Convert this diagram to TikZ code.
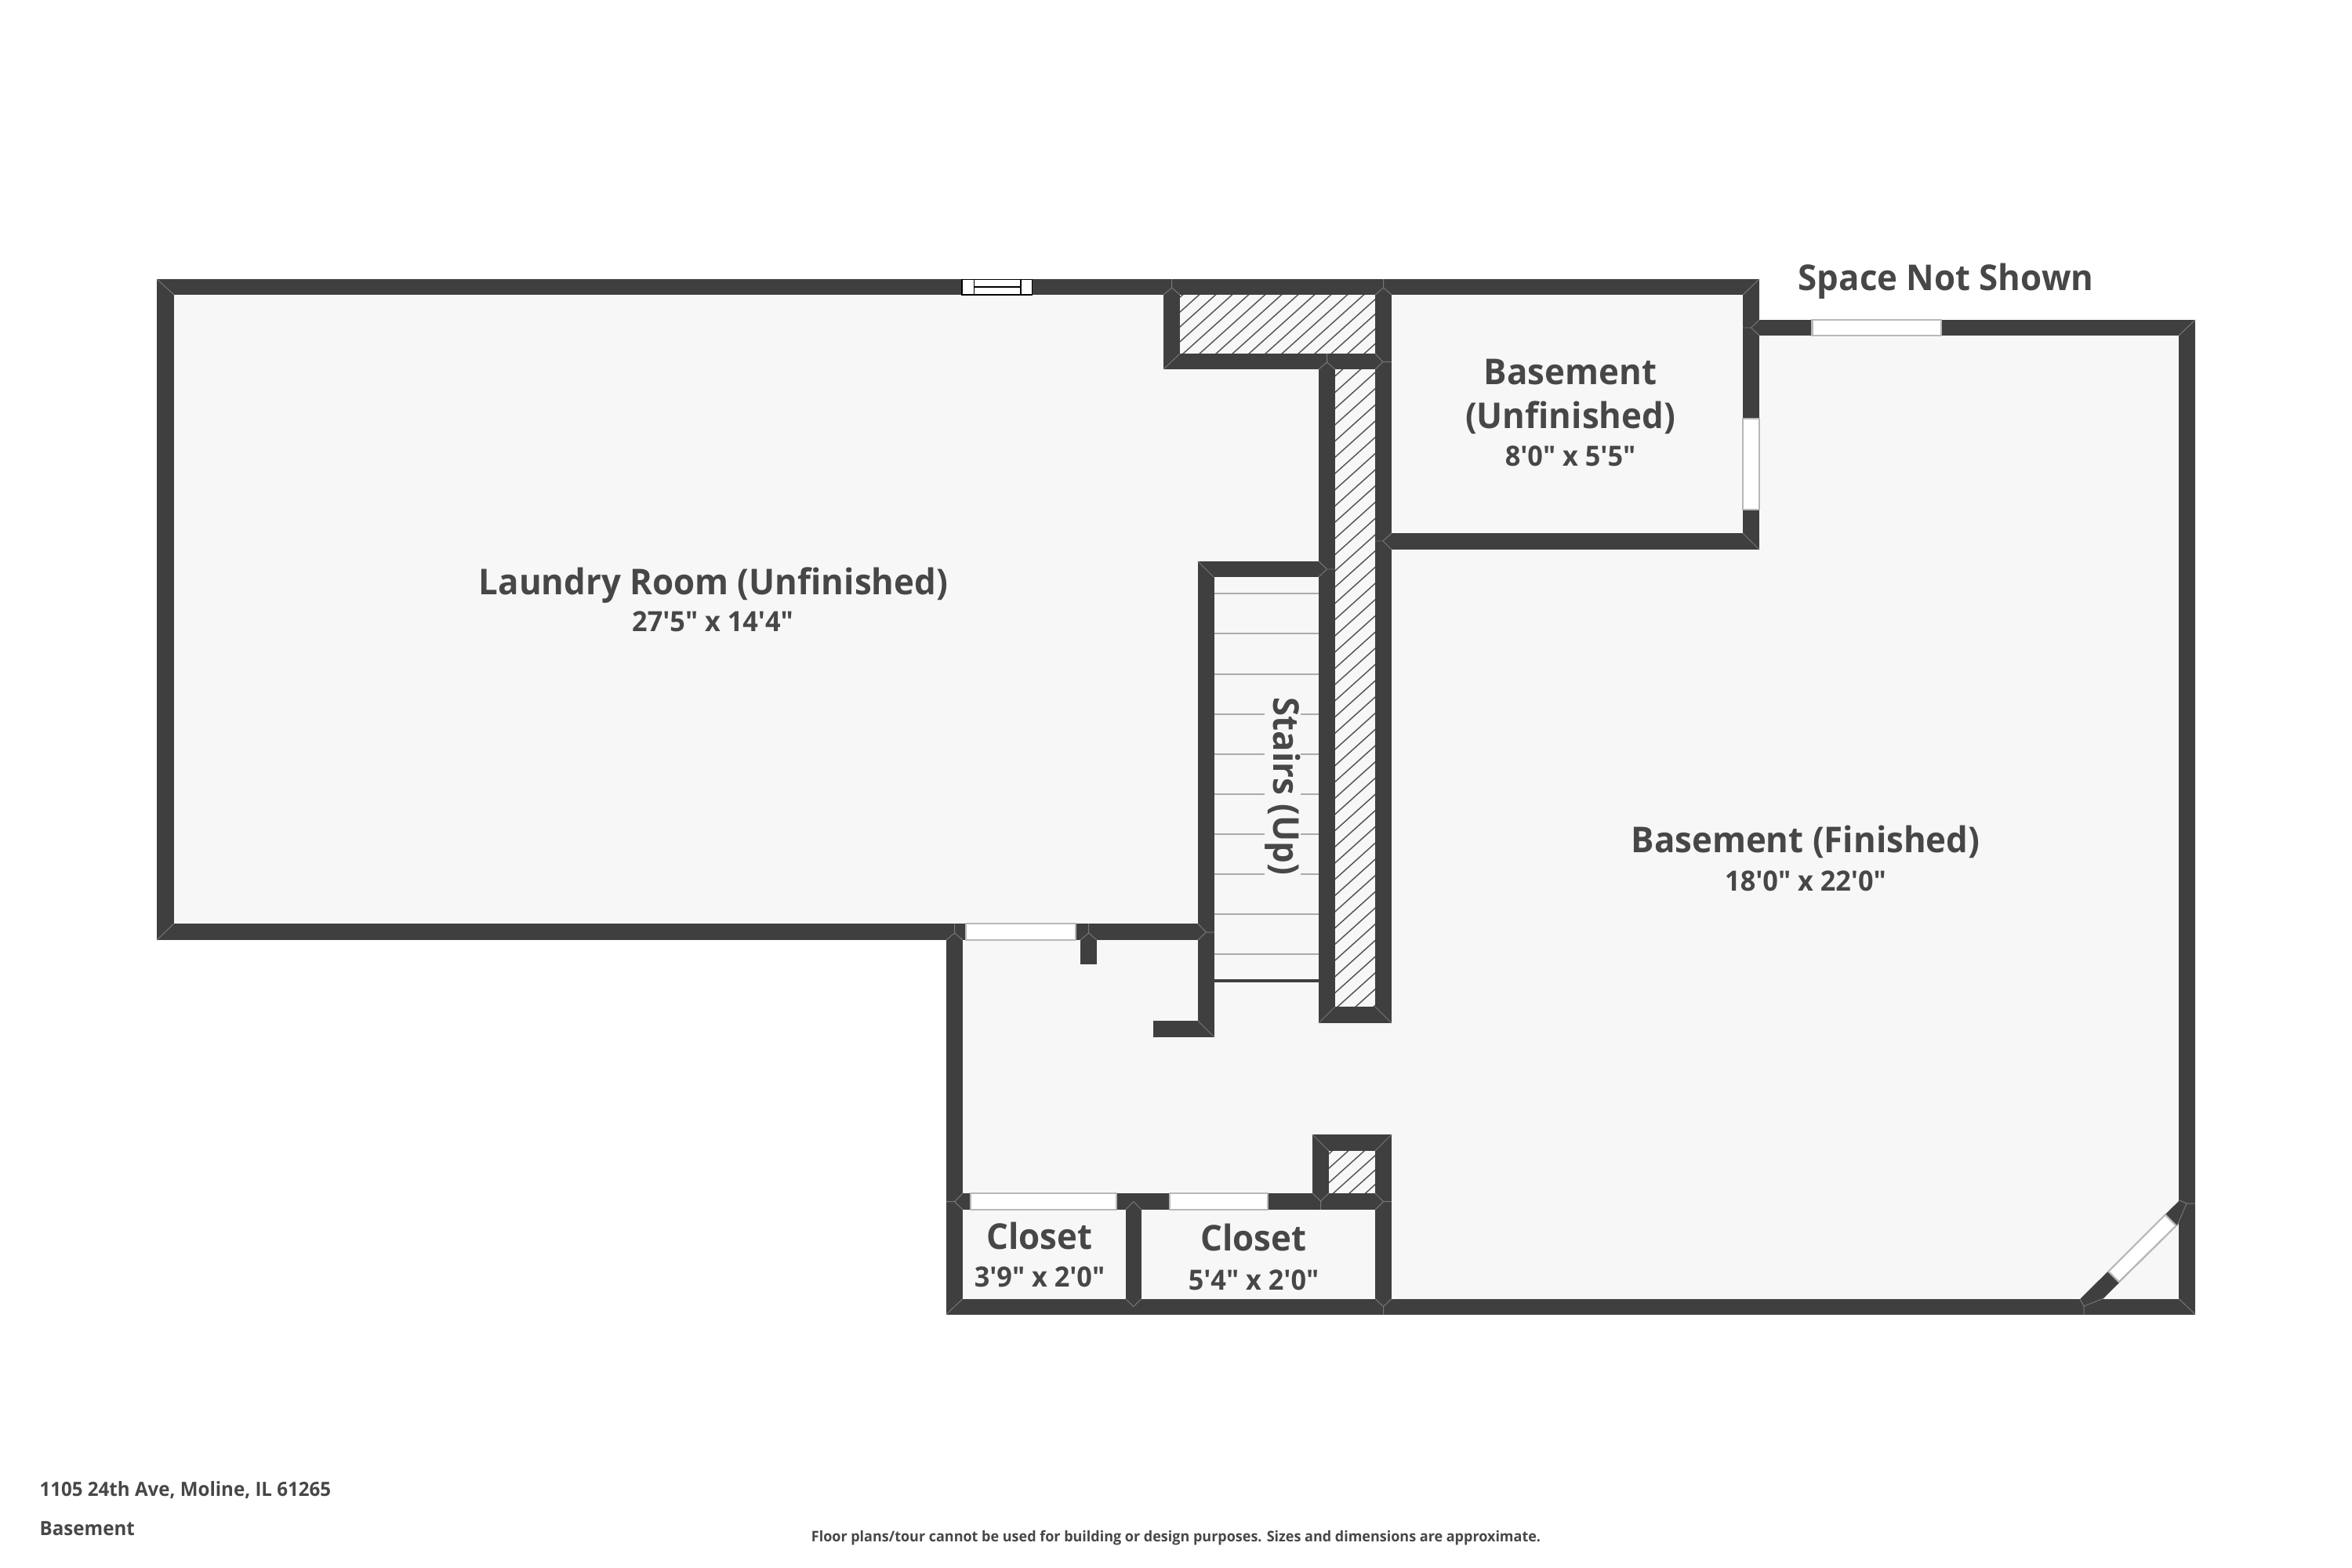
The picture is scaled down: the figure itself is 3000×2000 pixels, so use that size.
\documentclass[tikz,border=0pt]{standalone}
\usepackage{fontspec}
\newfontfamily\labf{Open Sans}[FakeStretch=0.965]
\definecolor{wallc}{HTML}{3F3F3F}
\definecolor{floorc}{HTML}{F7F7F7}
\definecolor{textc}{HTML}{474747}
\definecolor{seamc}{HTML}{777777}
\definecolor{stepc}{HTML}{ABABAB}
\definecolor{doorc}{HTML}{B8B8B8}
\definecolor{hatchc}{HTML}{555555}
\tikzset{
  wall/.style={fill=wallc,draw=none},
  seam/.style={draw=seamc,line width=0.28pt},
  stepline/.style={draw=stepc,line width=0.6pt},
  hatchline/.style={draw=hatchc,line width=0.42pt},
  opening/.style={fill=white,draw=doorc,line width=0.6pt},
  winline/.style={draw=black,line width=0.4pt},
  roomlabel/.style={anchor=base,inner sep=0pt,text=textc,font=\labf\bfseries\fontsize{12.9}{15}\selectfont},
  dimlabel/.style={anchor=base,inner sep=0pt,text=textc,font=\labf\bfseries\fontsize{10.1}{12}\selectfont},
  footlabel/.style={anchor=base west,inner sep=0pt,text=textc,font=\labf\bfseries\fontsize{7.1}{9}\selectfont},
  notelabel/.style={anchor=base,inner sep=0pt,text=textc,font=\labf\bfseries\fontsize{5.3}{7}\selectfont},
}
\newcommand{\hatchbox}[7]{%
  \begin{scope}
    \clip (#1,#2) rectangle (#3,#4);
    \foreach \i in {-60,...,60}{
      \draw[hatchline] ({#5+\i*#7+1000},{#6-900}) -- ({#5+\i*#7-1000},{#6+900});
    }
  \end{scope}}
\begin{document}
\begin{tikzpicture}[x=0.01cm,y=-0.01cm]
\useasboundingbox (0,0) rectangle (3000,2000);
\fill[white] (0,0) rectangle (3000,2000);
% floor
\fill[floorc] (200,356) -- (2244,356) -- (2244,408) -- (2800,408) -- (2800,1676.5) -- (1207,1676.5) -- (1207,1199) -- (200,1199) -- cycle;
% hatching
\hatchbox{1505}{376}{1754}{451}{1529.5}{376}{21}
\hatchbox{1703}{471}{1754}{1284}{1703}{728}{23}
\hatchbox{1695}{1468}{1754}{1522}{1719.6}{1468}{20.5}
% stair treads
\foreach \y in {757,808,860,911,962,1013,1064,1115,1166,1217}{
  \draw[stepline] (1549,\y) -- (1682,\y);
}
\fill[wallc] (1549,1249) rectangle (1682,1253);
% walls
\fill[wall] (200,356) rectangle (2244,376);
\fill[wall] (200,356) rectangle (222,1199);
\fill[wall] (200,1178) rectangle (1549,1199);
\fill[wall] (1207,1178) rectangle (1228,1676.5);
\fill[wall] (1528,716) rectangle (1549,1323);
\fill[wall] (1471,1302) rectangle (1549,1323);
\fill[wall] (1528,716) rectangle (1703,736);
\fill[wall] (1378,1178) rectangle (1399,1230);
\fill[wall] (1484,356) rectangle (1505,471);
\fill[wall] (1484,451) rectangle (1775,471);
\fill[wall] (1754,356) rectangle (1775,1305);
\fill[wall] (1682,451) rectangle (1703,1305);
\fill[wall] (1682,1284) rectangle (1775,1305);
\fill[wall] (2223,356) rectangle (2244,701);
\fill[wall] (1775,680) rectangle (2244,701);
\fill[wall] (2244,408) rectangle (2800,428);
\fill[wall] (2779,408) rectangle (2800,1676.5);
\fill[wall] (1207,1656.5) rectangle (2800,1676.5);
\fill[wall] (1207,1522) rectangle (1775,1543);
\fill[wall] (1435.5,1543) rectangle (1456,1657);
\fill[wall] (1754,1447) rectangle (1775,1676.5);
\fill[wall] (1674,1447) rectangle (1695,1543);
\fill[wall] (1674,1447) rectangle (1775,1468);
\fill[wall] (2780,1531) -- (2653,1657) -- (2658,1666) -- (2683,1656) -- (2777,1563) -- (2789,1535) -- cycle;
% seams
\draw[seam] (200,356) -- (222,376);
\draw[seam] (200,1199) -- (222,1178);
\draw[seam] (1494.6,356) -- (1494.6,367) (1484,376) -- (1494.6,367) -- (1505,376);
\draw[seam] (1764.6,356) -- (1764.6,367) (1754,376) -- (1764.6,367) -- (1775,376);
\draw[seam] (1484,471) -- (1505,451);
\draw[seam] (1692.5,451) -- (1692.5,462) (1682,471) -- (1692.5,462) -- (1703,471);
\draw[seam] (1775,461.7) -- (1764,461.7) (1754,451) -- (1764,461.7) -- (1754,471);
\draw[seam] (1682,716) -- (1692.5,726) -- (1703,726) (1692.5,726) -- (1682,736);
\draw[seam] (1528,716) -- (1548,736);
\draw[seam] (1754,690) -- (1764,690) (1775,680) -- (1764,690) -- (1775,701);
\draw[seam] (1217.5,1178) -- (1217.5,1190) (1207,1199) -- (1217.5,1190) -- (1228,1199);
\draw[seam] (1388.6,1178) -- (1388.6,1190) (1378,1199) -- (1388.6,1190) -- (1399,1199);
\draw[seam] (1528,1178) -- (1538.5,1189) -- (1549,1189) (1538.5,1189) -- (1528,1199);
\draw[seam] (1528,1302) -- (1549,1323);
\draw[seam] (1682,1305) -- (1703,1284);
\draw[seam] (1754,1284) -- (1775,1305);
\draw[seam] (1674,1447) -- (1695,1468);
\draw[seam] (1775,1447) -- (1754,1468);
\draw[seam] (1684.5,1543) -- (1684.5,1532) (1674,1522) -- (1684.5,1532) -- (1695,1522);
\draw[seam] (1775,1532.6) -- (1764.5,1532.6) (1754,1522) -- (1764.5,1532.6) -- (1754,1543);
\draw[seam] (1207,1532.6) -- (1217.5,1532.6) (1228,1522) -- (1217.5,1532.6) -- (1228,1543);
\draw[seam] (1435.5,1543) -- (1445.7,1532.6) -- (1456,1543);
\draw[seam] (1435.5,1656.5) -- (1445.7,1666.5) -- (1456,1656.5);
\draw[seam] (1207,1676.5) -- (1228,1656.5);
\draw[seam] (1754,1656.5) -- (1764.5,1666.5) -- (1775,1656.5) (1764.5,1666.5) -- (1764.5,1676.5);
\draw[seam] (2244,356) -- (2223,376);
\draw[seam] (2223,418) -- (2233.6,418) (2244,408) -- (2233.6,418) -- (2244,428);
\draw[seam] (2223,680) -- (2244,701);
\draw[seam] (2779,428) -- (2800,408);
\draw[seam] (2779,1656.5) -- (2800,1676.5);
\draw[seam] (2653,1657) -- (2658,1666) -- (2683,1656) (2658,1666) -- (2658,1676.5);
\draw[seam] (2780,1531) -- (2789,1535) -- (2777,1563) (2789,1535) -- (2800,1535);
% openings
\draw[opening] (1232,1178) rectangle (1372,1199);
\draw[opening] (1238,1522) rectangle (1424,1543);
\draw[opening] (1492,1522) rectangle (1617,1543);
\draw[opening] (2223,534) rectangle (2244,650);
\draw[opening] (2311.5,408) rectangle (2476,428);
\draw[opening] (2761.7,1549.3) -- (2689.3,1621.7) -- (2702.7,1635) -- (2775.7,1563.3) -- cycle;
% window
\fill[white] (1227,356) rectangle (1316.5,376);
\draw[winline] (1227,356.5) rectangle (1316.5,376);
\draw[winline] (1242.5,356) -- (1242.5,376) (1302,356) -- (1302,376) (1242.5,366) -- (1302,366);
% labels
\node[roomlabel] (laundry) at (910,758) {Laundry Room (Unfinished)};
\node[dimlabel] (laundrydim) at (909,805) {27'5" x 14'4"};
\node[roomlabel] (basea) at (2003,490) {Basement};
\node[roomlabel] (baseb) at (2003,546) {(Unfinished)};
\node[dimlabel] (basedim) at (2003,594) {8'0" x 5'5"};
\node[roomlabel] (finished) at (2303,1087) {Basement (Finished)};
\node[dimlabel] (finisheddim) at (2303,1136) {18'0" x 22'0"};
\node[roomlabel] (closeta) at (1326,1593) {Closet};
\node[dimlabel] (closetadim) at (1326,1641) {3'9" x 2'0"};
\node[roomlabel] (closetb) at (1599,1595) {Closet};
\node[dimlabel] (closetbdim) at (1599,1645) {5'4" x 2'0"};
\node[roomlabel] (space) at (2482,370) {Space Not Shown};
\node[roomlabel,anchor=center,rotate=-90,fill=floorc,inner xsep=1pt] (stairs) at (1636,1003) {Stairs (Up)};
\node[footlabel] (addr) at (50,1908) {1105 24th Ave, Moline, IL 61265};
\node[footlabel] (level) at (50,1958) {Basement};
\node[notelabel] (note) at (1500,1966) {Floor plans/tour cannot be used for building or design purposes. Sizes and dimensions are approximate.};
\end{tikzpicture}
\end{document}
